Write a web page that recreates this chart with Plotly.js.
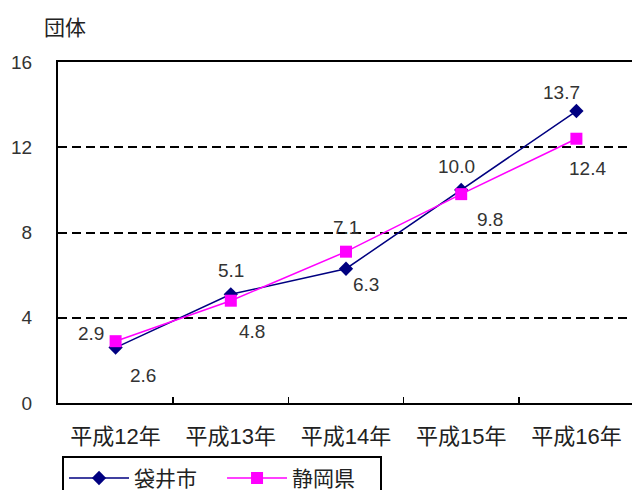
<!DOCTYPE html>
<html><head><meta charset="utf-8">
<script src="https://cdn.plot.ly/plotly-3.0.1.min.js"></script>
<style>html,body{margin:0;padding:0;overflow:hidden;background:#fff;}#chart{width:636px;height:490px;}</style>
</head><body><div id="chart"></div>
<script>
const categories = ['平成12年','平成13年','平成14年','平成15年','平成16年'];
const fukuroi = [2.6, 5.1, 6.3, 10.0, 13.7];
const shizuoka = [2.9, 4.8, 7.1, 9.8, 12.4];
const yTicks = [0, 4, 8, 12, 16];
const seriesNames = ['袋井市', '静岡県'];
const unitLabel = '団体';

// label offsets in pixels (style only): [dx, dy(up)]
const fukuroiOffsets = [[27, -28], [0, 24], [20, -16], [-5, 23], [-15, 19]];
const shizuokaOffsets = [[-25, 8], [21, -31], [0, 24], [29, -25], [11, -30]];

const FONT = 'Liberation Sans, Arial, "Noto Sans CJK JP", sans-serif';
const fmt = v => v.toFixed(1);

const traces = [
  {
    x: categories, y: fukuroi, name: seriesNames[0], type: 'scatter', mode: 'lines+markers',
    line: {color: '#000080', width: 1.5},
    marker: {symbol: 'diamond', size: 11, color: '#000080'}
  },
  {
    x: categories, y: shizuoka, name: seriesNames[1], type: 'scatter', mode: 'lines+markers',
    line: {color: '#FF00FF', width: 1.5},
    marker: {symbol: 'square', size: 12, color: '#FF00FF'}
  }
];

function labels(vals, offs) {
  return vals.map((v, i) => ({
    x: categories[i], y: v, xref: 'x', yref: 'y', text: fmt(v), showarrow: false,
    xshift: offs[i][0], yshift: offs[i][1], xanchor: 'center', yanchor: 'middle',
    font: {family: FONT, size: 19, color: '#333'}
  }));
}

const layout = {
  width: 636, height: 490,
  margin: {l: 58, r: 2, t: 62, b: 87, autoexpand: false},
  paper_bgcolor: '#fff', plot_bgcolor: '#fff',
  font: {family: FONT, size: 18, color: '#333'},
  showlegend: true,
  legend: {
    orientation: 'h', x: 0.007, xanchor: 'left', y: -0.155, yanchor: 'top',
    bordercolor: '#000', borderwidth: 2, bgcolor: '#fff',
    font: {family: FONT, size: 21, color: '#222'},
    itemwidth: 60, entrywidth: 83, tracegroupgap: 0
  },
  xaxis: {
    type: 'category', range: [-0.5, 4.5], tickson: 'boundaries', ticks: 'inside', ticklen: 6, tickwidth: 1.5, tickcolor: '#000',
    showline: true, linecolor: '#000', linewidth: 2, mirror: true, showgrid: false, automargin: false,
    tickfont: {family: FONT, size: 22, color: '#222'}, ticklabelstandoff: 13,
    fixedrange: true
  },
  yaxis: {
    range: [0, 16], tickvals: yTicks, ticktext: yTicks.map(String), automargin: false,
    showline: true, linecolor: '#000', linewidth: 2, mirror: true,
    showgrid: true, gridcolor: '#000', gridwidth: 2, griddash: '9px,5px',
    zeroline: false, ticks: '', ticklabelstandoff: 20,
    tickfont: {family: FONT, size: 19, color: '#333'},
    fixedrange: true
  },
  annotations: [{
    text: unitLabel, xref: 'paper', yref: 'paper', x: -0.027, y: 1.1, xanchor: 'left', yanchor: 'middle',
    showarrow: false, font: {family: FONT, size: 21, color: '#222'}
  }].concat(labels(fukuroi, fukuroiOffsets), labels(shizuoka, shizuokaOffsets))
};

Plotly.newPlot('chart', traces, layout, {staticPlot: true, displayModeBar: false});
</script></body></html>
